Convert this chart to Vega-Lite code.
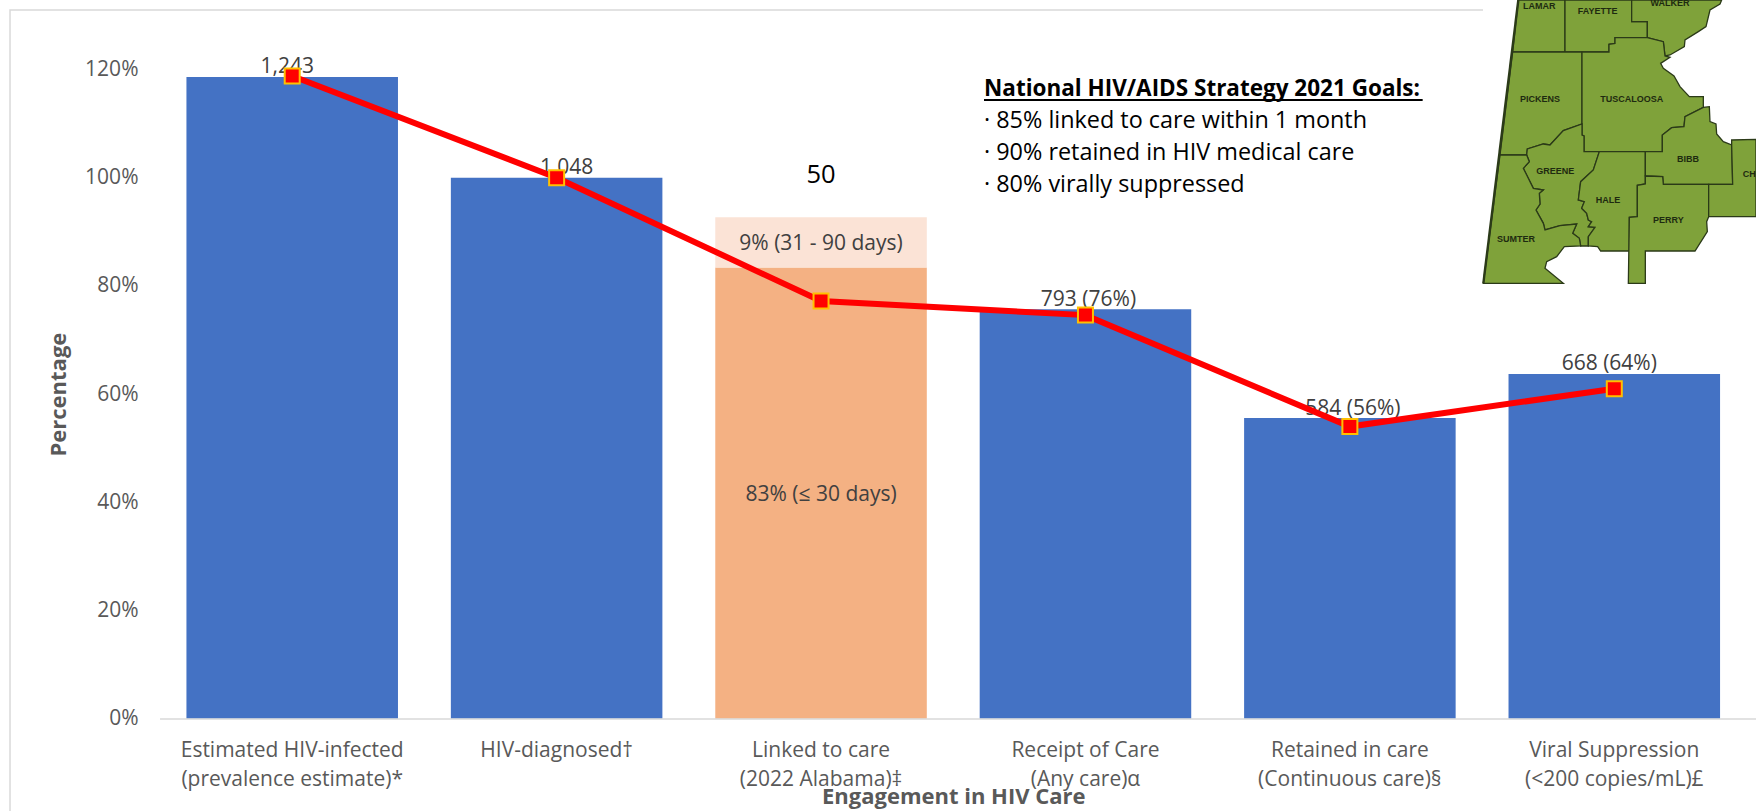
{"$schema":"https://vega.github.io/schema/vega-lite/v6.json","autosize":"none","width":1586.5,"height":649.2,"padding":{"left":160,"top":69.5,"right":9.5,"bottom":92.3},"background":"white","config":{"view":{"stroke":null},"font":"Open Sans"},"datasets":{"segments":[{"stage":"Estimated HIV-infected|(prevalence estimate)*","segment":"Count","order":1,"percent":118.6},{"stage":"HIV-diagnosed†","segment":"Count","order":1,"percent":100},{"stage":"Linked to care|(2022 Alabama)‡","segment":"Within 30 days","order":1,"percent":83.4,"note":"83% (≤ 30 days)"},{"stage":"Linked to care|(2022 Alabama)‡","segment":"31 to 90 days","order":2,"percent":9.3,"note":"9% (31 - 90 days)"},{"stage":"Receipt of Care|(Any care)α","segment":"Count","order":1,"percent":75.7},{"stage":"Retained in care|(Continuous care)§","segment":"Count","order":1,"percent":55.6},{"stage":"Viral Suppression|(<200 copies/mL)£","segment":"Count","order":1,"percent":63.7}],"trend":[{"stage":"Estimated HIV-infected|(prevalence estimate)*","percent":118.8},{"stage":"HIV-diagnosed†","percent":100},{"stage":"Linked to care|(2022 Alabama)‡","percent":77.2},{"stage":"Receipt of Care|(Any care)α","percent":74.6},{"stage":"Retained in care|(Continuous care)§","percent":54},{"stage":"Viral Suppression|(<200 copies/mL)£","percent":61}],"labels":[{"stage":"Estimated HIV-infected|(prevalence estimate)*","percent":118.6,"label":"1,243","shift":"left"},{"stage":"HIV-diagnosed†","percent":100,"label":"1,048","shift":"right"},{"stage":"Receipt of Care|(Any care)α","percent":75.7,"label":"793 (76%)","shift":"small"},{"stage":"Retained in care|(Continuous care)§","percent":55.6,"label":"584 (56%)","shift":"small"},{"stage":"Viral Suppression|(<200 copies/mL)£","percent":63.7,"label":"668 (64%)","shift":"left"}],"linked":[{"stage":"Linked to care|(2022 Alabama)‡","percent":92.7,"label":"50"}],"goals":[{"line":"National HIV/AIDS Strategy 2021 Goals:","kind":"head","lon":-1398,"lat":266},{"line":"· 85% linked to care within 1 month","kind":"item","lon":-1398,"lat":363},{"line":"· 90% retained in HIV medical care","kind":"item","lon":-1398,"lat":458},{"line":"· 80% virally suppressed","kind":"item","lon":-1398,"lat":555}],"counties":[{"name":"LAMAR","lon":268,"lat":18},{"name":"FAYETTE","lon":443,"lat":34},{"name":"WALKER","lon":660,"lat":10},{"name":"PICKENS","lon":270,"lat":296},{"name":"TUSCALOOSA","lon":545,"lat":297},{"name":"GREENE","lon":316,"lat":513},{"name":"BIBB","lon":714,"lat":478},{"name":"CH","lon":898,"lat":523},{"name":"HALE","lon":474,"lat":600},{"name":"PERRY","lon":655,"lat":660},{"name":"SUMTER","lon":198,"lat":716}]},"layer":[{"data":{"name":"segments"},"transform":[{"stack":"percent","groupby":["stage"],"sort":[{"field":"order"}],"as":["y0","y1"]}],"mark":{"type":"bar"},"encoding":{"x":{"field":"stage","type":"nominal","sort":null,"scale":{"paddingInner":0.2,"paddingOuter":0.1},"axis":{"title":"Engagement in HIV Care","titleFont":"Open Sans","titleFontSize":22,"titleFontWeight":"bold","titleColor":"#595959","titleY":68,"labelAngle":0,"labelFont":"Open Sans","labelFontSize":21,"labelColor":"#595959","labelLineHeight":29,"labelExpr":"split(datum.label,'|')","labelPadding":38,"labelLimit":400,"labelBaseline":"alphabetic","ticks":false,"domain":false,"grid":false}},"y":{"field":"y0","type":"quantitative","scale":{"domain":[0,120],"nice":false},"axis":{"title":"Percentage","titleFont":"Open Sans","titleFontSize":22,"titleFontWeight":"bold","titleColor":"#595959","titleX":-90,"labelFont":"Open Sans","labelFontSize":21,"labelColor":"#595959","labelPadding":22,"ticks":false,"domain":false,"grid":false,"values":[0,20,40,60,80,100,120],"labelExpr":"datum.value+'%'"}},"y2":{"field":"y1"},"color":{"field":"segment","type":"nominal","legend":null,"scale":{"domain":["Count","Within 30 days","31 to 90 days"],"range":["#4472C4","#F4B183","#FBE3D6"]}}}},{"data":{"name":"segments"},"transform":[{"filter":"isValid(datum.note)"},{"stack":"percent","groupby":["stage"],"sort":[{"field":"order"}],"as":["y0","y1"]},{"calculate":"(datum.y0+datum.y1)/2","as":"mid"}],"mark":{"type":"text","font":"Open Sans","fontSize":21,"color":"#404040","dy":2},"encoding":{"x":{"field":"stage","type":"nominal","sort":null},"y":{"field":"mid","type":"quantitative"},"text":{"field":"note"}}},{"data":{"name":"labels"},"transform":[{"filter":"datum.shift==='small'"}],"mark":{"type":"text","font":"Open Sans","fontSize":21,"color":"#404040","dy":-9,"dx":3},"encoding":{"x":{"field":"stage","type":"nominal","sort":null},"y":{"field":"percent","type":"quantitative"},"text":{"field":"label"}}},{"data":{"name":"labels"},"transform":[{"filter":"datum.shift==='left'"}],"mark":{"type":"text","font":"Open Sans","fontSize":21,"color":"#404040","dy":-10,"dx":-5},"encoding":{"x":{"field":"stage","type":"nominal","sort":null},"y":{"field":"percent","type":"quantitative"},"text":{"field":"label"}}},{"data":{"name":"labels"},"transform":[{"filter":"datum.shift==='right'"}],"mark":{"type":"text","font":"Open Sans","fontSize":21,"color":"#404040","dy":-10,"dx":10},"encoding":{"x":{"field":"stage","type":"nominal","sort":null},"y":{"field":"percent","type":"quantitative"},"text":{"field":"label"}}},{"data":{"name":"linked"},"mark":{"type":"text","font":"Open Sans","fontSize":25.5,"color":"#000000","dy":-42},"encoding":{"x":{"field":"stage","type":"nominal","sort":null},"y":{"field":"percent","type":"quantitative"},"text":{"field":"label"}}},{"data":{"name":"trend"},"mark":{"type":"line","color":"#FF0000","strokeWidth":6},"encoding":{"x":{"field":"stage","type":"nominal","sort":null},"y":{"field":"percent","type":"quantitative"}}},{"data":{"name":"trend"},"mark":{"type":"square","filled":true,"fill":"#FF0000","stroke":"#FFC000","strokeWidth":2,"size":225,"opacity":1},"encoding":{"x":{"field":"stage","type":"nominal","sort":null},"y":{"field":"percent","type":"quantitative"}}},{"data":{"values":{"type":"FeatureCollection","features":[{"type":"Feature","properties":{"n":"Frame"},"geometry":{"type":"MultiLineString","coordinates":[[[99,30],[-4320,30],[-4320,2433]],[[-3870,2157],[918,2157]]]}}]},"format":{"type":"json","property":"features"}},"projection":{"type":"identity","scale":0.33333,"translate":[1290,-69.5]},"mark":{"type":"geoshape","filled":false,"clip":false,"stroke":"#D9D9D9","strokeWidth":1.5},"encoding":{}},{"data":{"values":{"type":"FeatureCollection","features":[{"type":"Feature","properties":{"n":"Goals underline"},"geometry":{"type":"LineString","coordinates":[[-1398,300],[-82,300]]}}]},"format":{"type":"json","property":"features"}},"projection":{"type":"identity","scale":0.33333,"translate":[1290,-69.5]},"mark":{"type":"geoshape","filled":false,"clip":false,"stroke":"#000000","strokeWidth":2},"encoding":{}},{"data":{"values":{"type":"FeatureCollection","features":[{"type":"Feature","properties":{"n":"Lamar"},"geometry":{"type":"Polygon","coordinates":[[[205,0],[345,0],[345,156],[188,156],[205,0]]]}},{"type":"Feature","properties":{"n":"Fayette"},"geometry":{"type":"Polygon","coordinates":[[[345,0],[545,0],[545,65],[592,65],[592,113],[495,113],[495,130],[477,133],[477,156],[345,156],[345,0]]]}},{"type":"Feature","properties":{"n":"Walker"},"geometry":{"type":"Polygon","coordinates":[[[545,0],[815,0],[810,12],[780,30],[768,80],[745,95],[705,120],[703,140],[660,165],[645,168],[640,125],[592,113],[592,65],[545,65],[545,0]]]}},{"type":"Feature","properties":{"n":"Pickens"},"geometry":{"type":"Polygon","coordinates":[[[188,156],[396,156],[396,372],[340,392],[300,435],[280,432],[232,447],[230,465],[150,465],[188,156]]]}},{"type":"Feature","properties":{"n":"Tuscaloosa"},"geometry":{"type":"Polygon","coordinates":[[[396,156],[477,156],[477,133],[495,130],[495,113],[592,113],[640,125],[645,168],[660,172],[632,190],[640,205],[672,228],[690,260],[718,290],[760,290],[760,322],[705,350],[702,380],[665,383],[637,405],[637,455],[402,455],[402,408],[396,405],[396,156]]]}},{"type":"Feature","properties":{"n":"Greene"},"geometry":{"type":"Polygon","coordinates":[[[396,372],[396,405],[402,408],[402,455],[448,455],[430,510],[392,545],[385,600],[403,605],[395,625],[410,640],[415,660],[425,665],[415,680],[435,682],[415,710],[415,738],[392,738],[388,715],[368,700],[380,672],[330,677],[285,690],[280,670],[258,630],[270,612],[268,580],[280,570],[250,565],[220,505],[238,485],[230,465],[232,447],[280,432],[300,435],[340,392],[396,372]]]}},{"type":"Feature","properties":{"n":"Sumter"},"geometry":{"type":"Polygon","coordinates":[[[150,465],[230,465],[238,485],[220,505],[250,565],[280,570],[268,580],[270,612],[258,630],[280,670],[285,690],[330,677],[380,672],[368,700],[388,715],[392,738],[343,740],[320,770],[290,785],[285,805],[340,850],[100,850],[150,465]]]}},{"type":"Feature","properties":{"n":"Hale"},"geometry":{"type":"Polygon","coordinates":[[[448,455],[586,455],[586,552],[562,556],[562,650],[538,652],[538,753],[452,753],[443,740],[415,738],[415,710],[435,682],[415,680],[425,665],[415,660],[410,640],[395,625],[403,605],[385,600],[392,545],[430,510],[448,455]]]}},{"type":"Feature","properties":{"n":"Bibb"},"geometry":{"type":"Polygon","coordinates":[[[637,455],[637,405],[665,383],[702,380],[705,350],[760,322],[778,320],[780,365],[798,372],[800,402],[820,425],[845,435],[848,553],[640,553],[638,530],[586,528],[586,455],[637,455]]]}},{"type":"Feature","properties":{"n":"Perry"},"geometry":{"type":"Polygon","coordinates":[[[586,528],[638,530],[640,553],[776,553],[776,650],[770,665],[772,695],[735,753],[586,753],[586,850],[535,850],[538,652],[562,650],[562,556],[586,552],[586,528]]]}},{"type":"Feature","properties":{"n":"Chilton"},"geometry":{"type":"Polygon","coordinates":[[[845,420],[918,418],[918,650],[776,650],[776,553],[848,553],[845,435],[845,420]]]}}]},"format":{"type":"json","property":"features"}},"projection":{"type":"identity","scale":0.33333,"translate":[1290,-69.5]},"mark":{"type":"geoshape","clip":false,"fill":"#7FA23A","stroke":"#2B3A18","strokeWidth":1.3},"encoding":{}},{"data":{"values":{"type":"FeatureCollection","features":[{"type":"Feature","properties":{"n":"West border"},"geometry":{"type":"LineString","coordinates":[[205,0],[100,850]]}}]},"format":{"type":"json","property":"features"}},"projection":{"type":"identity","scale":0.33333,"translate":[1290,-69.5]},"mark":{"type":"geoshape","filled":false,"clip":false,"stroke":"#2B3A18","strokeWidth":2.4},"encoding":{}},{"data":{"name":"counties"},"projection":{"type":"identity","scale":0.33333,"translate":[1290,-69.5]},"mark":{"type":"text","clip":false,"font":"Liberation Sans","fontWeight":"bold","fontSize":9,"color":"#1E2A10"},"encoding":{"longitude":{"field":"lon","type":"quantitative"},"latitude":{"field":"lat","type":"quantitative"},"text":{"field":"name"}}},{"data":{"name":"goals"},"transform":[{"filter":"datum.kind==='head'"}],"projection":{"type":"identity","scale":0.33333,"translate":[1290,-69.5]},"mark":{"type":"text","clip":false,"align":"left","font":"Open Sans","fontSize":22.5,"fontWeight":"bold","color":"#000000"},"encoding":{"longitude":{"field":"lon","type":"quantitative"},"latitude":{"field":"lat","type":"quantitative"},"text":{"field":"line"}}},{"data":{"name":"goals"},"transform":[{"filter":"datum.kind==='item'"}],"projection":{"type":"identity","scale":0.33333,"translate":[1290,-69.5]},"mark":{"type":"text","clip":false,"align":"left","font":"Open Sans","fontSize":23.4,"color":"#000000"},"encoding":{"longitude":{"field":"lon","type":"quantitative"},"latitude":{"field":"lat","type":"quantitative"},"text":{"field":"line"}}}]}
